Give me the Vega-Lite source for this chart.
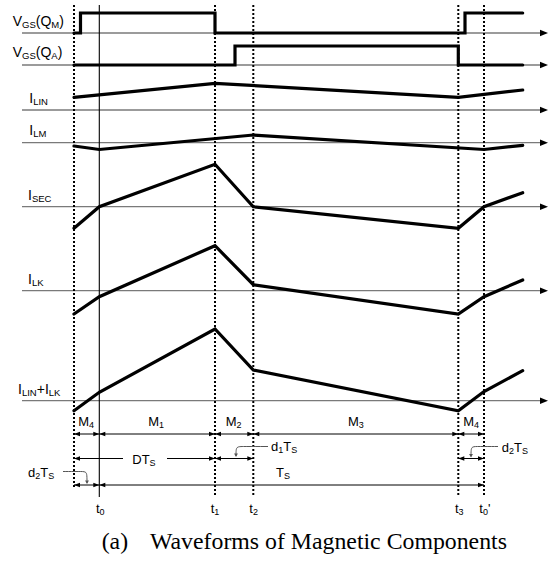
{
  "$schema": "https://vega.github.io/schema/vega-lite/v6.json",
  "width": 552,
  "height": 563,
  "autosize": {"type": "none"},
  "padding": 0,
  "background": "white",
  "config": {"view": {"stroke": null}},
  "datasets": {
    "axes": [
      {"y": 33, "x0": 22, "x1": 541, "tip": 548},
      {"y": 65, "x0": 22, "x1": 541, "tip": 548},
      {"y": 110, "x0": 22, "x1": 541, "tip": 548},
      {"y": 142.7, "x0": 22, "x1": 541, "tip": 548},
      {"y": 206.7, "x0": 22, "x1": 541, "tip": 548},
      {"y": 290.7, "x0": 22, "x1": 541, "tip": 548},
      {"y": 400.7, "x0": 22, "x1": 541, "tip": 548}
    ],
    "dotted": [
      {"x": 74, "y0": 5, "y1": 488},
      {"x": 215, "y0": 5, "y1": 495},
      {"x": 253.3, "y0": 5, "y1": 495},
      {"x": 458.3, "y0": 5, "y1": 495},
      {"x": 484, "y0": 5, "y1": 495}
    ],
    "solid": [
      {"x": 99.3, "y0": 5, "y1": 497}
    ],
    "waves": [
      {"s": "QM", "i": 0, "x": 74, "y": 33},
      {"s": "QM", "i": 1, "x": 80.5, "y": 33},
      {"s": "QM", "i": 2, "x": 80.5, "y": 13},
      {"s": "QM", "i": 3, "x": 215, "y": 13},
      {"s": "QM", "i": 4, "x": 215, "y": 33},
      {"s": "QM", "i": 5, "x": 465, "y": 33},
      {"s": "QM", "i": 6, "x": 465, "y": 13},
      {"s": "QM", "i": 7, "x": 522.7, "y": 13},
      {"s": "QA", "i": 0, "x": 74, "y": 65},
      {"s": "QA", "i": 1, "x": 235, "y": 65},
      {"s": "QA", "i": 2, "x": 235, "y": 46},
      {"s": "QA", "i": 3, "x": 458.3, "y": 46},
      {"s": "QA", "i": 4, "x": 458.3, "y": 65},
      {"s": "QA", "i": 5, "x": 522.7, "y": 65},
      {"s": "LIN", "i": 0, "x": 74, "y": 97.3},
      {"s": "LIN", "i": 1, "x": 215, "y": 83.3},
      {"s": "LIN", "i": 2, "x": 458.3, "y": 97.3},
      {"s": "LIN", "i": 3, "x": 522.7, "y": 90},
      {"s": "LM", "i": 0, "x": 74, "y": 146},
      {"s": "LM", "i": 1, "x": 99.3, "y": 149.5},
      {"s": "LM", "i": 2, "x": 253.3, "y": 135},
      {"s": "LM", "i": 3, "x": 484, "y": 149.5},
      {"s": "LM", "i": 4, "x": 522.7, "y": 145.3},
      {"s": "SEC", "i": 0, "x": 74, "y": 228.3},
      {"s": "SEC", "i": 1, "x": 99.3, "y": 206.7},
      {"s": "SEC", "i": 2, "x": 215, "y": 164.3},
      {"s": "SEC", "i": 3, "x": 253.3, "y": 206.7},
      {"s": "SEC", "i": 4, "x": 458.3, "y": 228.3},
      {"s": "SEC", "i": 5, "x": 484, "y": 206.7},
      {"s": "SEC", "i": 6, "x": 522.7, "y": 192.7},
      {"s": "LK", "i": 0, "x": 74, "y": 314},
      {"s": "LK", "i": 1, "x": 99.3, "y": 296.7},
      {"s": "LK", "i": 2, "x": 215, "y": 245.7},
      {"s": "LK", "i": 3, "x": 253.3, "y": 284.7},
      {"s": "LK", "i": 4, "x": 458.3, "y": 314},
      {"s": "LK", "i": 5, "x": 484, "y": 296.7},
      {"s": "LK", "i": 6, "x": 522.7, "y": 280},
      {"s": "SUM", "i": 0, "x": 74, "y": 410.7},
      {"s": "SUM", "i": 1, "x": 99.3, "y": 392.3},
      {"s": "SUM", "i": 2, "x": 215, "y": 329},
      {"s": "SUM", "i": 3, "x": 253.3, "y": 370},
      {"s": "SUM", "i": 4, "x": 458.3, "y": 410.7},
      {"s": "SUM", "i": 5, "x": 484, "y": 391.5},
      {"s": "SUM", "i": 6, "x": 522.7, "y": 370.7}
    ],
    "dims": [
      {"x": 74, "x2": 99.3, "y": 434},
      {"x": 99.3, "x2": 215, "y": 434},
      {"x": 215, "x2": 253.3, "y": 434},
      {"x": 253.3, "x2": 458.3, "y": 434},
      {"x": 458.3, "x2": 484, "y": 434},
      {"x": 74, "x2": 123, "y": 458.5},
      {"x": 167, "x2": 215, "y": 458.5},
      {"x": 215, "x2": 253.3, "y": 458.5},
      {"x": 458.3, "x2": 484, "y": 458.5},
      {"x": 74, "x2": 99.3, "y": 485},
      {"x": 99.3, "x2": 484, "y": 485}
    ],
    "heads": [
      {"x": 74, "y": 434, "d": "l"}, {"x": 99.3, "y": 434, "d": "r"},
      {"x": 99.3, "y": 434, "d": "l"}, {"x": 215, "y": 434, "d": "r"},
      {"x": 215, "y": 434, "d": "l"}, {"x": 253.3, "y": 434, "d": "r"},
      {"x": 253.3, "y": 434, "d": "l"}, {"x": 458.3, "y": 434, "d": "r"},
      {"x": 458.3, "y": 434, "d": "l"}, {"x": 484, "y": 434, "d": "r"},
      {"x": 74, "y": 458.5, "d": "l"}, {"x": 215, "y": 458.5, "d": "r"},
      {"x": 215, "y": 458.5, "d": "l"}, {"x": 253.3, "y": 458.5, "d": "r"},
      {"x": 458.3, "y": 458.5, "d": "l"}, {"x": 484, "y": 458.5, "d": "r"},
      {"x": 74, "y": 485, "d": "l"}, {"x": 99.3, "y": 485, "d": "r"},
      {"x": 99.3, "y": 485, "d": "l"}, {"x": 484, "y": 485, "d": "r"}
    ],
    "leaders": [
      {"g": "d1", "i": 0, "x": 268, "y": 446.5},
      {"g": "d1", "i": 1, "x": 244, "y": 446.5},
      {"g": "d1", "i": 2, "x": 237, "y": 446.5},
      {"g": "d1", "i": 3, "x": 236, "y": 450},
      {"g": "d1", "i": 4, "x": 236, "y": 456},
      {"g": "d2r", "i": 0, "x": 498, "y": 446.5},
      {"g": "d2r", "i": 1, "x": 478, "y": 446.5},
      {"g": "d2r", "i": 2, "x": 472, "y": 446.5},
      {"g": "d2r", "i": 3, "x": 471, "y": 450},
      {"g": "d2r", "i": 4, "x": 471, "y": 456.5},
      {"g": "d2l", "i": 0, "x": 63, "y": 471.5},
      {"g": "d2l", "i": 1, "x": 80, "y": 471.5},
      {"g": "d2l", "i": 2, "x": 86, "y": 471.5},
      {"g": "d2l", "i": 3, "x": 87, "y": 475},
      {"g": "d2l", "i": 4, "x": 87, "y": 483}
    ],
    "leaderTips": [
      {"x": 236, "y": 457},
      {"x": 471, "y": 457.5},
      {"x": 87, "y": 484}
    ],
    "texts": [
      {"g": "lab", "p": "m", "x": 12.7, "y": 25.5, "t": "V"},
      {"g": "lab", "p": "s", "x": 22.0, "y": 25.5, "t": "GS"},
      {"g": "lab", "p": "m", "x": 35.8, "y": 25.5, "t": "(Q"},
      {"g": "lab", "p": "s", "x": 51.3, "y": 25.5, "t": "M"},
      {"g": "lab", "p": "m", "x": 59.2, "y": 25.5, "t": ")"},
      {"g": "lab", "p": "m", "x": 12.7, "y": 57.3, "t": "V"},
      {"g": "lab", "p": "s", "x": 22.0, "y": 57.3, "t": "GS"},
      {"g": "lab", "p": "m", "x": 35.8, "y": 57.3, "t": "(Q"},
      {"g": "lab", "p": "s", "x": 51.3, "y": 57.3, "t": "A"},
      {"g": "lab", "p": "m", "x": 57.7, "y": 57.3, "t": ")"},
      {"g": "lab", "p": "m", "x": 29.3, "y": 102.7, "t": "I"},
      {"g": "lab", "p": "s", "x": 33.2, "y": 102.7, "t": "LIN"},
      {"g": "lab", "p": "m", "x": 29.3, "y": 135, "t": "I"},
      {"g": "lab", "p": "s", "x": 33.2, "y": 135, "t": "LM"},
      {"g": "lab", "p": "m", "x": 28, "y": 200, "t": "I"},
      {"g": "lab", "p": "s", "x": 31.9, "y": 200, "t": "SEC"},
      {"g": "lab", "p": "m", "x": 28, "y": 284, "t": "I"},
      {"g": "lab", "p": "s", "x": 31.9, "y": 284, "t": "LK"},
      {"g": "lab", "p": "m", "x": 18, "y": 394, "t": "I"},
      {"g": "lab", "p": "s", "x": 21.9, "y": 394, "t": "LIN"},
      {"g": "lab", "p": "m", "x": 36.7, "y": 394, "t": "+I"},
      {"g": "lab", "p": "s", "x": 48.8, "y": 394, "t": "LK"},
      {"g": "bot", "p": "m", "x": 78.3, "y": 425.7, "t": "M"},
      {"g": "bot", "p": "s", "x": 89.1, "y": 425.7, "t": "4"},
      {"g": "bot", "p": "m", "x": 148.3, "y": 425.7, "t": "M"},
      {"g": "bot", "p": "s", "x": 159.1, "y": 425.7, "t": "1"},
      {"g": "bot", "p": "m", "x": 225.7, "y": 425.7, "t": "M"},
      {"g": "bot", "p": "s", "x": 236.5, "y": 425.7, "t": "2"},
      {"g": "bot", "p": "m", "x": 348, "y": 425.7, "t": "M"},
      {"g": "bot", "p": "s", "x": 358.8, "y": 425.7, "t": "3"},
      {"g": "bot", "p": "m", "x": 463.3, "y": 425.7, "t": "M"},
      {"g": "bot", "p": "s", "x": 474.1, "y": 425.7, "t": "4"},
      {"g": "bot", "p": "m", "x": 132.3, "y": 464.3, "t": "DT"},
      {"g": "bot", "p": "s", "x": 149.6, "y": 464.3, "t": "S"},
      {"g": "bot", "p": "m", "x": 271, "y": 451, "t": "d"},
      {"g": "bot", "p": "s", "x": 278.2, "y": 451, "t": "1"},
      {"g": "bot", "p": "m", "x": 283.2, "y": 451, "t": "T"},
      {"g": "bot", "p": "s", "x": 291.2, "y": 451, "t": "S"},
      {"g": "bot", "p": "m", "x": 501.7, "y": 451.7, "t": "d"},
      {"g": "bot", "p": "s", "x": 508.9, "y": 451.7, "t": "2"},
      {"g": "bot", "p": "m", "x": 513.9, "y": 451.7, "t": "T"},
      {"g": "bot", "p": "s", "x": 521.9, "y": 451.7, "t": "S"},
      {"g": "bot", "p": "m", "x": 28, "y": 477, "t": "d"},
      {"g": "bot", "p": "s", "x": 35.2, "y": 477, "t": "2"},
      {"g": "bot", "p": "m", "x": 40.2, "y": 477, "t": "T"},
      {"g": "bot", "p": "s", "x": 48.2, "y": 477, "t": "S"},
      {"g": "bot", "p": "m", "x": 276, "y": 477, "t": "T"},
      {"g": "bot", "p": "s", "x": 283.9, "y": 477, "t": "S"},
      {"g": "bot", "p": "m", "x": 96, "y": 513, "t": "t"},
      {"g": "bot", "p": "s", "x": 99.6, "y": 513, "t": "0"},
      {"g": "bot", "p": "m", "x": 210.7, "y": 513, "t": "t"},
      {"g": "bot", "p": "s", "x": 214.3, "y": 513, "t": "1"},
      {"g": "bot", "p": "m", "x": 249.3, "y": 513, "t": "t"},
      {"g": "bot", "p": "s", "x": 252.9, "y": 513, "t": "2"},
      {"g": "bot", "p": "m", "x": 455, "y": 513, "t": "t"},
      {"g": "bot", "p": "s", "x": 458.6, "y": 513, "t": "3"},
      {"g": "bot", "p": "m", "x": 479.3, "y": 513, "t": "t"},
      {"g": "bot", "p": "s", "x": 482.9, "y": 513, "t": "0"},
      {"g": "bot", "p": "m", "x": 487.9, "y": 513, "t": "'"},
      {"g": "cap", "p": "m", "x": 101.7, "y": 549, "t": "(a)"},
      {"g": "cap", "p": "m", "x": 150, "y": 549, "t": "Waveforms of Magnetic Components"}
    ]
  },
  "layer": [
    {
      "data": {"name": "axes"},
      "mark": {"type": "rule", "color": "#7a7a7a", "strokeWidth": 1.3},
      "encoding": {
        "x": {"field": "x0", "type": "quantitative", "scale": {"domain": [0, 552], "nice": false, "zero": false}, "axis": null},
        "x2": {"field": "x1"},
        "y": {"field": "y", "type": "quantitative", "scale": {"domain": [0, 563], "reverse": true, "nice": false, "zero": false}, "axis": null}
      }
    },
    {
      "data": {"name": "axes"},
      "mark": {"type": "point", "filled": true, "opacity": 1, "color": "black", "strokeWidth": 0, "size": 256, "shape": "M 0 0 L -1 -0.4 L -1 0.4 Z"},
      "encoding": {
        "x": {"field": "tip", "type": "quantitative"},
        "y": {"field": "y", "type": "quantitative"}
      }
    },
    {
      "data": {"name": "dotted"},
      "mark": {"type": "rule", "color": "black", "strokeWidth": 2, "strokeDash": [2, 2]},
      "encoding": {
        "x": {"field": "x", "type": "quantitative"},
        "y": {"field": "y0", "type": "quantitative"},
        "y2": {"field": "y1"}
      }
    },
    {
      "data": {"name": "solid"},
      "mark": {"type": "rule", "color": "black", "strokeWidth": 1.1},
      "encoding": {
        "x": {"field": "x", "type": "quantitative"},
        "y": {"field": "y0", "type": "quantitative"},
        "y2": {"field": "y1"}
      }
    },
    {
      "data": {"name": "waves"},
      "mark": {"type": "line", "color": "black", "strokeWidth": 3.2, "strokeJoin": "miter", "strokeCap": "round"},
      "encoding": {
        "x": {"field": "x", "type": "quantitative"},
        "y": {"field": "y", "type": "quantitative"},
        "detail": {"field": "s"},
        "order": {"field": "i", "type": "quantitative"}
      }
    },
    {
      "data": {"name": "dims"},
      "mark": {"type": "rule", "color": "black", "strokeWidth": 1},
      "encoding": {
        "x": {"field": "x", "type": "quantitative"},
        "x2": {"field": "x2"},
        "y": {"field": "y", "type": "quantitative"}
      }
    },
    {
      "data": {"name": "heads"},
      "transform": [{"filter": "datum.d == 'l'"}],
      "mark": {"type": "point", "filled": true, "opacity": 1, "color": "black", "strokeWidth": 0, "size": 144, "shape": "M 0 0 L 1 -0.38 L 1 0.38 Z"},
      "encoding": {
        "x": {"field": "x", "type": "quantitative"},
        "y": {"field": "y", "type": "quantitative"}
      }
    },
    {
      "data": {"name": "heads"},
      "transform": [{"filter": "datum.d == 'r'"}],
      "mark": {"type": "point", "filled": true, "opacity": 1, "color": "black", "strokeWidth": 0, "size": 144, "shape": "M 0 0 L -1 -0.38 L -1 0.38 Z"},
      "encoding": {
        "x": {"field": "x", "type": "quantitative"},
        "y": {"field": "y", "type": "quantitative"}
      }
    },
    {
      "data": {"name": "leaders"},
      "mark": {"type": "line", "color": "#555555", "strokeWidth": 1, "interpolate": "basis"},
      "encoding": {
        "x": {"field": "x", "type": "quantitative"},
        "y": {"field": "y", "type": "quantitative"},
        "detail": {"field": "g"},
        "order": {"field": "i", "type": "quantitative"}
      }
    },
    {
      "data": {"name": "leaderTips"},
      "mark": {"type": "point", "filled": true, "opacity": 1, "color": "#555555", "strokeWidth": 0, "size": 49, "shape": "M 0 0 L -0.55 -1 L 0.55 -1 Z"},
      "encoding": {
        "x": {"field": "x", "type": "quantitative"},
        "y": {"field": "y", "type": "quantitative"}
      }
    },
    {
      "data": {"name": "texts"},
      "transform": [{"filter": "datum.g == 'lab' && datum.p == 'm'"}],
      "mark": {"type": "text", "align": "left", "baseline": "alphabetic", "font": "Liberation Sans", "fontSize": 14, "color": "black"},
      "encoding": {
        "x": {"field": "x", "type": "quantitative"},
        "y": {"field": "y", "type": "quantitative"},
        "text": {"field": "t"}
      }
    },
    {
      "data": {"name": "texts"},
      "transform": [{"filter": "datum.g == 'lab' && datum.p == 's'"}],
      "mark": {"type": "text", "align": "left", "baseline": "alphabetic", "font": "Liberation Sans", "fontSize": 9.5, "dy": 2, "color": "black"},
      "encoding": {
        "x": {"field": "x", "type": "quantitative"},
        "y": {"field": "y", "type": "quantitative"},
        "text": {"field": "t"}
      }
    },
    {
      "data": {"name": "texts"},
      "transform": [{"filter": "datum.g == 'bot' && datum.p == 'm'"}],
      "mark": {"type": "text", "align": "left", "baseline": "alphabetic", "font": "Liberation Sans", "fontSize": 13, "color": "black"},
      "encoding": {
        "x": {"field": "x", "type": "quantitative"},
        "y": {"field": "y", "type": "quantitative"},
        "text": {"field": "t"}
      }
    },
    {
      "data": {"name": "texts"},
      "transform": [{"filter": "datum.g == 'bot' && datum.p == 's'"}],
      "mark": {"type": "text", "align": "left", "baseline": "alphabetic", "font": "Liberation Sans", "fontSize": 9, "dy": 2, "color": "black"},
      "encoding": {
        "x": {"field": "x", "type": "quantitative"},
        "y": {"field": "y", "type": "quantitative"},
        "text": {"field": "t"}
      }
    },
    {
      "data": {"name": "texts"},
      "transform": [{"filter": "datum.g == 'cap'"}],
      "mark": {"type": "text", "align": "left", "baseline": "alphabetic", "font": "Liberation Serif", "fontSize": 23.8, "color": "black"},
      "encoding": {
        "x": {"field": "x", "type": "quantitative"},
        "y": {"field": "y", "type": "quantitative"},
        "text": {"field": "t"}
      }
    }
  ]
}
